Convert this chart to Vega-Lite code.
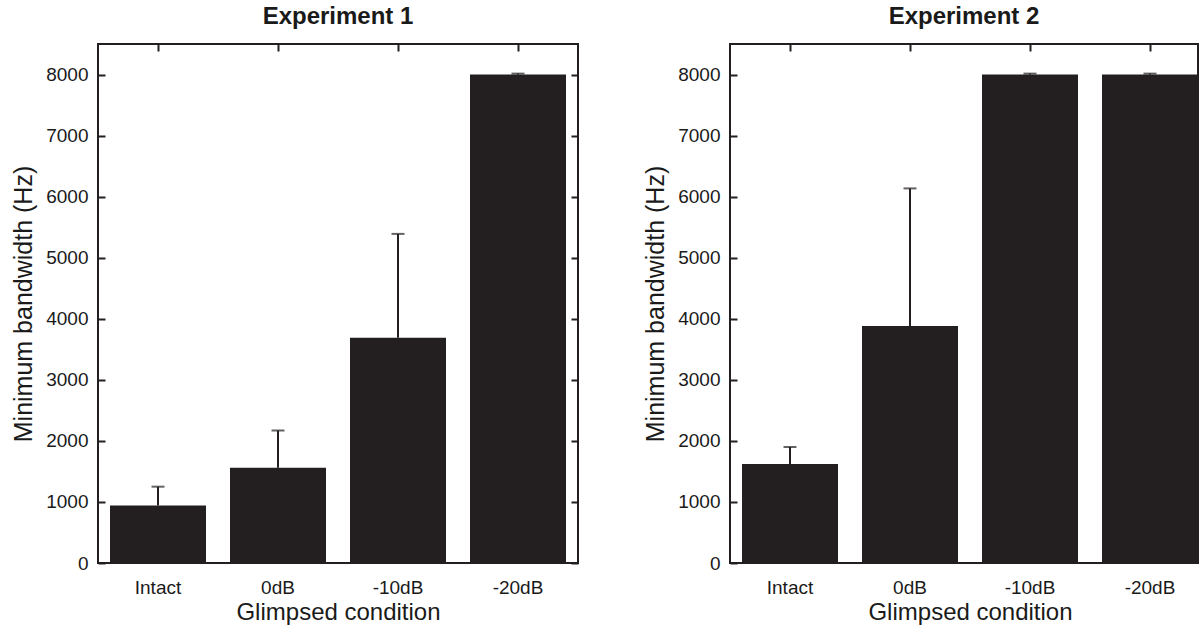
{
  "$schema": "https://vega.github.io/schema/vega-lite/v6.json",
  "padding": {"left": 10, "top": 4, "right": 0, "bottom": 0},
  "spacing": 152,
  "bounds": "flush",
  "config": {
    "font": "Liberation Sans",
    "view": {"stroke": "#231f20", "strokeWidth": 2},
    "axis": {"labelColor": "#1a1a1a", "titleColor": "#1a1a1a", "tickColor": "#231f20", "tickWidth": 2, "domain": false, "grid": false, "labelFontSize": 19, "titleFontSize": 24, "titleFontWeight": "normal"},
    "title": {"fontSize": 24, "fontWeight": "bold", "color": "#1a1a1a", "frame": "group", "offset": 14}
  },
  "datasets": {
    "exp1": [
      {"condition": "Intact", "mean": 940, "upper": 1250},
      {"condition": "0dB", "mean": 1560, "upper": 2170},
      {"condition": "-10dB", "mean": 3690, "upper": 5390},
      {"condition": "-20dB", "mean": 8000, "upper": 8015}
    ],
    "exp2": [
      {"condition": "Intact", "mean": 1620, "upper": 1900},
      {"condition": "0dB", "mean": 3880, "upper": 6135},
      {"condition": "-10dB", "mean": 8000, "upper": 8015},
      {"condition": "-20dB", "mean": 8000, "upper": 8015}
    ]
  },
  "hconcat": [
    {
      "title": {"text": "Experiment 1"},
      "width": 480,
      "height": 519,
      "data": {"name": "exp1"},
      "layer": [
        {
          "mark": {"type": "bar", "color": "#231f20"},
          "encoding": {
            "x": {"field": "condition", "type": "nominal", "sort": ["Intact", "0dB", "-10dB", "-20dB"], "scale": {"paddingInner": 0.2, "paddingOuter": 0.1}, "axis": {"orient": "bottom", "labelAngle": 0, "ticks": false, "labelPadding": 15, "title": "Glimpsed condition", "titlePadding": 3}},
            "y": {"field": "mean", "type": "quantitative", "scale": {"domain": [0, 8500], "nice": false}, "axis": {"orient": "left", "values": [0, 1000, 2000, 3000, 4000, 5000, 6000, 7000, 8000], "format": "d", "tickSize": -7, "labelPadding": 17, "title": "Minimum bandwidth (Hz)", "titleFontSize": 25, "titlePadding": 9}}
          }
        },
        {
          "mark": {"type": "rule", "color": "#231f20", "strokeWidth": 2},
          "encoding": {
            "x": {"field": "condition", "type": "nominal", "sort": ["Intact", "0dB", "-10dB", "-20dB"], "scale": {"paddingInner": 0.2, "paddingOuter": 0.1}, "axis": {"orient": "top", "labels": false, "tickSize": -7, "title": null}},
            "y": {"field": "mean", "type": "quantitative", "scale": {"domain": [0, 8500], "nice": false}, "axis": {"orient": "right", "labels": false, "values": [0, 1000, 2000, 3000, 4000, 5000, 6000, 7000, 8000], "tickSize": -7, "title": null}},
            "y2": {"field": "upper"}
          }
        },
        {
          "mark": {"type": "tick", "orient": "horizontal", "size": 13, "thickness": 2, "color": "#231f20"},
          "encoding": {
            "x": {"field": "condition", "type": "nominal", "sort": ["Intact", "0dB", "-10dB", "-20dB"], "axis": null},
            "y": {"field": "upper", "type": "quantitative", "axis": null}
          }
        }
      ],
      "resolve": {"axis": {"x": "independent", "y": "independent"}}
    },
    {
      "title": {"text": "Experiment 2"},
      "width": 468,
      "height": 519,
      "data": {"name": "exp2"},
      "layer": [
        {
          "mark": {"type": "bar", "color": "#231f20", "clip": true},
          "encoding": {
            "x": {"field": "condition", "type": "nominal", "sort": ["Intact", "0dB", "-10dB", "-20dB"], "scale": {"paddingInner": 0.2, "paddingOuter": 0.1, "range": [0, 480]}, "axis": {"orient": "bottom", "labelAngle": 0, "ticks": false, "labelPadding": 15, "title": "Glimpsed condition", "titlePadding": 3}},
            "y": {"field": "mean", "type": "quantitative", "scale": {"domain": [0, 8500], "nice": false}, "axis": {"orient": "left", "values": [0, 1000, 2000, 3000, 4000, 5000, 6000, 7000, 8000], "format": "d", "tickSize": -7, "labelPadding": 17, "title": "Minimum bandwidth (Hz)", "titleFontSize": 25, "titlePadding": 9}}
          }
        },
        {
          "mark": {"type": "rule", "color": "#231f20", "strokeWidth": 2, "clip": true},
          "encoding": {
            "x": {"field": "condition", "type": "nominal", "sort": ["Intact", "0dB", "-10dB", "-20dB"], "scale": {"paddingInner": 0.2, "paddingOuter": 0.1, "range": [0, 480]}, "axis": {"orient": "top", "labels": false, "tickSize": -7, "title": null}},
            "y": {"field": "mean", "type": "quantitative", "scale": {"domain": [0, 8500], "nice": false}, "axis": {"orient": "right", "labels": false, "ticks": false, "title": null}},
            "y2": {"field": "upper"}
          }
        },
        {
          "mark": {"type": "tick", "orient": "horizontal", "size": 13, "thickness": 2, "color": "#231f20", "clip": true},
          "encoding": {
            "x": {"field": "condition", "type": "nominal", "sort": ["Intact", "0dB", "-10dB", "-20dB"], "axis": null},
            "y": {"field": "upper", "type": "quantitative", "axis": null}
          }
        }
      ],
      "resolve": {"axis": {"x": "independent", "y": "independent"}}
    }
  ]
}
